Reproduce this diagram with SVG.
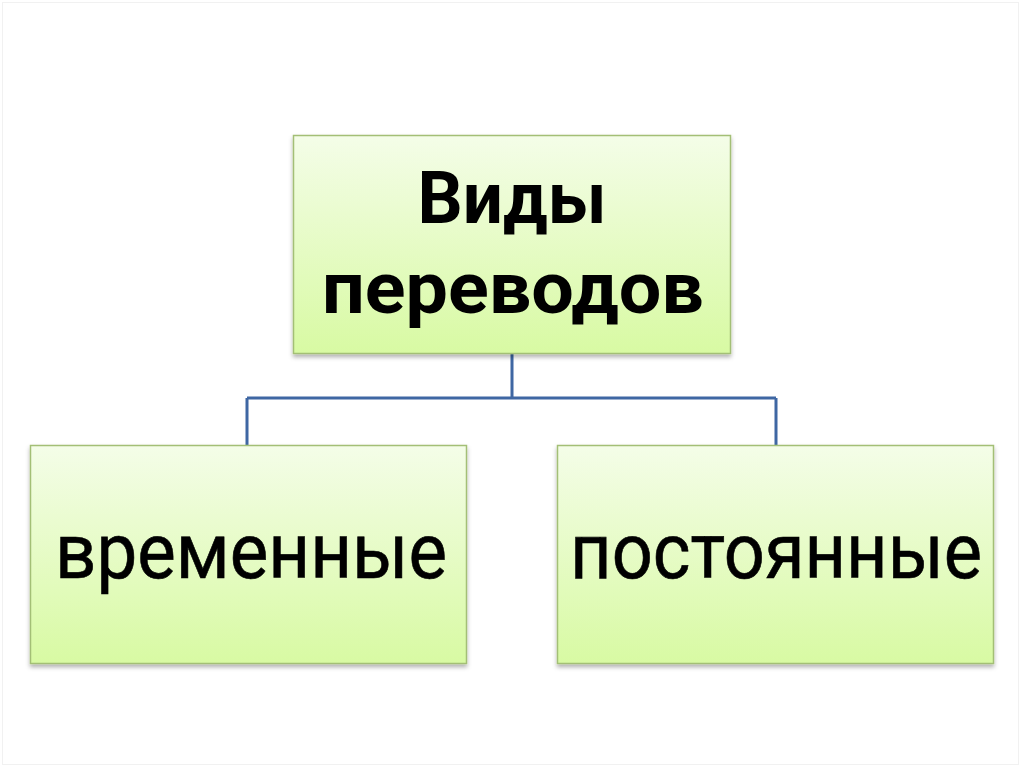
<svg xmlns="http://www.w3.org/2000/svg" width="1024" height="767" viewBox="0 0 1024 767">
  <defs>
    <linearGradient id="boxFill" x1="0" y1="0" x2="0" y2="1">
      <stop offset="0" stop-color="#f4fde8"/>
      <stop offset="1" stop-color="#d8faa3"/>
    </linearGradient>
    <filter id="shadow" x="-5%" y="-5%" width="110%" height="115%">
      <feDropShadow dx="0" dy="3" stdDeviation="2" flood-color="#000000" flood-opacity="0.3"/>
    </filter>
  </defs>
  <style>
    .box { fill: url(#boxFill); stroke: #a3bf76; stroke-width: 1.5; filter: url(#shadow); }
    .conn { fill: none; stroke: #3f67a3; stroke-width: 3; }
    .title { font-family: Roboto, "Liberation Sans", Arial, sans-serif; font-weight: bold; font-size: 72px; fill: #000; text-anchor: middle; }
    .label { font-family: Roboto, "Liberation Sans", Arial, sans-serif; font-size: 77px; fill: #000; text-anchor: middle; stroke: #000; stroke-width: 0.6; }
  </style>
  <rect x="0" y="0" width="1024" height="767" fill="#ffffff"/>
  <rect x="2.5" y="2.5" width="1016" height="762" fill="none" stroke="#f1f1f1" stroke-width="1"/>

  <g id="connectors">
    <path class="conn" d="M512,354 V398 M247,398 H776 M247,398 V445 M776,398 V445"/>
  </g>

  <g id="node-root">
    <rect class="box" x="293.5" y="135.5" width="437" height="218"/>
    <text class="title" x="512" y="223" textLength="189" lengthAdjust="spacingAndGlyphs">Виды</text>
    <text class="title" x="513" y="313" textLength="382" lengthAdjust="spacingAndGlyphs">переводов</text>
  </g>

  <g id="node-temporary">
    <rect class="box" x="30.5" y="445.5" width="436" height="218"/>
    <text class="label" x="251" y="578" textLength="392" lengthAdjust="spacingAndGlyphs">временные</text>
  </g>

  <g id="node-permanent">
    <rect class="box" x="557.5" y="445.5" width="436" height="218"/>
    <text class="label" x="776" y="578" textLength="412" lengthAdjust="spacingAndGlyphs">постоянные</text>
  </g>
</svg>
